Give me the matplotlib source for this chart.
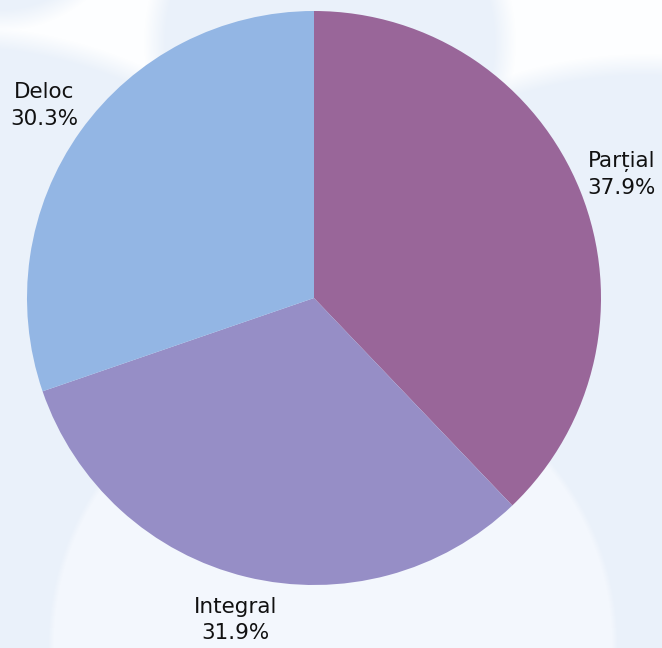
import numpy as np
import matplotlib
matplotlib.use("Agg")
import matplotlib.pyplot as plt
from matplotlib.colors import to_rgb

labels = ["Parțial", "Integral", "Deloc"]
shares = [37.9, 31.9, 30.3]
colors = ["#996699", "#968ec6", "#93b6e4"]

W, H = 662, 648
fig = plt.figure(figsize=(W / 100, H / 100), dpi=100)
ax = fig.add_axes([0, 0, 1, 1])

# soft "cloud" background: white page with blurred pale-blue circles
yy, xx = np.mgrid[0:H, 0:W] + 0.5
img = np.tile(np.array(to_rgb("#fdfeff")), (H, W, 1))
blue = np.array(to_rgb("#eaf1fa"))
paler = np.array(to_rgb("#f3f7fd"))
blobs = [
    (330, 42, 175, 22, blue),
    (-50, 500, 464, 22, blue),
    (0, -105, 125, 22, blue),
    (645, 500, 435, 22, blue),
    (333, 645, 282, 6, paler),
]
for bx, by, r, soft, c in blobs:
    d = np.hypot(xx - bx, yy - by)
    a = np.clip((r - d) / soft + 0.5, 0, 1)[..., None]
    img = img * (1 - a) + c * a
ax.imshow(img, extent=(0, W, 0, H), origin="upper", zorder=0)

cx, cy, R = 314, H - 298, 287
wedges, _ = ax.pie(shares, colors=colors, startangle=90, counterclock=False,
                   center=(cx, cy), radius=R, frame=True,
                   wedgeprops=dict(linewidth=0))
ax.set_xlim(0, W)
ax.set_ylim(0, H)
ax.set_aspect("equal")
ax.axis("off")

for w, lab, s in zip(wedges, labels, shares):
    mid = np.deg2rad((w.theta1 + w.theta2) / 2)
    x = cx + 1.155 * R * np.cos(mid)
    y = cy + 1.155 * R * np.sin(mid)
    ax.text(x, y, f"{lab}\n{s}%", ha="center", va="center", fontsize=15.5,
            color="#111111", linespacing=1.4, zorder=5)

fig.savefig("out.png", dpi=100)
